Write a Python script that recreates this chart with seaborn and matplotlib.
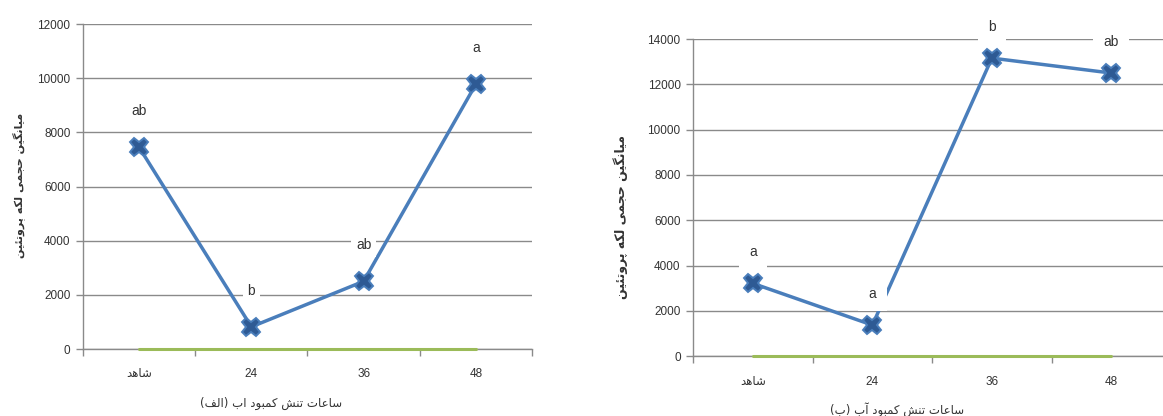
import numpy as np
import pandas as pd
import matplotlib
matplotlib.use("Agg")
import matplotlib.pyplot as plt
from matplotlib.ticker import FixedLocator
import seaborn as sns

# ---- data -------------------------------------------------------------
categories = ["شاهد", "24", "36", "48"]
volume_a = [7450, 820, 2500, 9780]
volume_b = [3210, 1370, 13160, 12500]
letters_a = ["ab", "b", "ab", "a"]
letters_b = ["a", "a", "b", "ab"]
baseline = [0, 0, 0, 0]
yticks_a = [0, 2000, 4000, 6000, 8000, 10000, 12000]
yticks_b = [0, 2000, 4000, 6000, 8000, 10000, 12000, 14000]
ylabel_text = "میانگین حجمی لکه پروتئین"
xlabel_a = "ساعات تنش کمبود اب (الف)"
xlabel_b = "ساعات تنش کمبود آب (ب)"

# ---- minimal Persian shaping (matplotlib has no complex text layout) ---
FORMS = {
    "ا": ("\uFE8D", "\uFE8E", None, None),
    "آ": ("\uFE81", "\uFE82", None, None),
    "ب": ("\uFE8F", "\uFE90", "\uFE91", "\uFE92"),
    "پ": ("\uFB56", "\uFB57", "\uFB58", "\uFB59"),
    "ت": ("\uFE95", "\uFE96", "\uFE97", "\uFE98"),
    "ج": ("\uFE9D", "\uFE9E", "\uFE9F", "\uFEA0"),
    "ح": ("\uFEA1", "\uFEA2", "\uFEA3", "\uFEA4"),
    "د": ("\uFEA9", "\uFEAA", None, None),
    "ر": ("\uFEAD", "\uFEAE", None, None),
    "س": ("\uFEB1", "\uFEB2", "\uFEB3", "\uFEB4"),
    "ش": ("\uFEB5", "\uFEB6", "\uFEB7", "\uFEB8"),
    "ع": ("\uFEC9", "\uFECA", "\uFECB", "\uFECC"),
    "ف": ("\uFED1", "\uFED2", "\uFED3", "\uFED4"),
    "ک": ("\uFB8E", "\uFB8F", "\uFB90", "\uFB91"),
    "گ": ("\uFB92", "\uFB93", "\uFB94", "\uFB95"),
    "ل": ("\uFEDD", "\uFEDE", "\uFEDF", "\uFEE0"),
    "م": ("\uFEE1", "\uFEE2", "\uFEE3", "\uFEE4"),
    "ن": ("\uFEE5", "\uFEE6", "\uFEE7", "\uFEE8"),
    "ه": ("\uFEE9", "\uFEEA", "\uFEEB", "\uFEEC"),
    "و": ("\uFEED", "\uFEEE", None, None),
    "ی": ("\uFBFC", "\uFBFD", "\uFBFE", "\uFBFF"),
    "ئ": ("\uFE89", "\uFE8A", "\uFE8B", "\uFE8C"),
}
MIRROR = {"(": ")", ")": "("}


def rtl(text):
    """Shape Persian letters into contextual forms and return visual order."""
    if not any(ch in FORMS for ch in text):
        return text
    out = []
    n = len(text)
    for i, ch in enumerate(text):
        if ch not in FORMS:
            out.append(ch)
            continue
        prev = text[i - 1] if i > 0 else ""
        nxt = text[i + 1] if i + 1 < n else ""
        join_prev = prev in FORMS and FORMS[prev][2] is not None
        join_next = nxt in FORMS and FORMS[ch][2] is not None
        iso, fin, ini, med = FORMS[ch]
        if join_prev and join_next:
            out.append(med)
        elif join_prev:
            out.append(fin)
        elif join_next:
            out.append(ini)
        else:
            out.append(iso)
    return "".join(MIRROR.get(c, c) for c in reversed(out))


# ---- style ------------------------------------------------------------
sns.set_style("white")
plt.rcParams["font.family"] = ["Liberation Sans", "DejaVu Sans"]

LINE = "#4a7ebb"
MARK = "#2e5a94"
GREEN = "#9bbb59"
GRID = "#8a8a8a"
TEXT = "#333333"

fig = plt.figure(figsize=(11.63, 4.16), dpi=100)
ax_a = fig.add_axes([0.0714, 0.161, 0.386, 0.781])
ax_b = fig.add_axes([0.596, 0.144, 0.411, 0.762])


def draw(ax, values, letters, yticks, offset, pad):
    pos = np.arange(len(categories))
    df = pd.DataFrame({"pos": pos, "value": values, "zero": baseline})
    sns.lineplot(data=df, x="pos", y="zero", ax=ax, color=GREEN,
                 linewidth=2.2, zorder=2.7, clip_on=False)
    sns.lineplot(data=df, x="pos", y="value", ax=ax, color=LINE,
                 linewidth=2.5, marker="X", markersize=13,
                 markerfacecolor=MARK, markeredgecolor=LINE,
                 markeredgewidth=1.4, zorder=3)
    for i, (v, t) in enumerate(zip(values, letters)):
        ax.annotate(t, (pos[i], v), xytext=(0, offset),
                    textcoords="offset pixels", ha="center", va="center",
                    fontsize=10, color=TEXT, zorder=6,
                    annotation_clip=False,
                    bbox=dict(boxstyle=f"square,pad={pad}", fc="white",
                              ec="none"))

    ax.set_xlim(-0.5, len(categories) - 0.5)
    ax.set_ylim(yticks[0], yticks[-1])
    ax.set_yticks(yticks)
    ax.set_yticklabels([str(t) for t in yticks])
    ax.set_xticks(pos)
    ax.set_xticklabels([rtl(c) for c in categories])
    ax.xaxis.set_minor_locator(FixedLocator(np.arange(-0.5, len(categories), 1.0)))
    ax.tick_params(axis="x", which="major", length=0, pad=14,
                   labelsize=8.5, labelcolor=TEXT)
    ax.tick_params(axis="x", which="minor", length=5, width=1,
                   color=GRID, direction="out", bottom=True)
    ax.tick_params(axis="y", length=5, width=1, color=GRID,
                   direction="out", left=True, pad=4,
                   labelsize=8.5, labelcolor=TEXT)
    ax.yaxis.grid(True, color=GRID, linewidth=1)
    ax.set_axisbelow(True)
    for side in ("top", "right"):
        ax.spines[side].set_visible(False)
    for side in ("left", "bottom"):
        ax.spines[side].set_color(GRID)
        ax.spines[side].set_linewidth(1)
    ax.set_xlabel("")
    ax.set_ylabel("")


draw(ax_a, volume_a, letters_a, yticks_a, 36, 0.35)
draw(ax_b, volume_b, letters_b, yticks_b, 31, 0.75)

# axis titles
fig.text(19 / 1163, 1 - 185 / 416, rtl(ylabel_text), rotation=90,
         ha="center", va="center", fontsize=8, color=TEXT,
         family=["DejaVu Sans"], fontweight="bold")
fig.text(621 / 1163, 1 - 217 / 416, rtl(ylabel_text), rotation=90,
         ha="center", va="center", fontsize=9, color=TEXT,
         family=["DejaVu Sans"], fontweight="bold")
fig.text(271 / 1163, 1 - 403 / 416, rtl(xlabel_a), ha="center",
         va="center", fontsize=8.5, color=TEXT, family=["DejaVu Sans"])
fig.text(897 / 1163, 1 - 410 / 416, rtl(xlabel_b), ha="center",
         va="center", fontsize=8.5, color=TEXT, family=["DejaVu Sans"])

fig.savefig("out.png", dpi=100, facecolor="white")
